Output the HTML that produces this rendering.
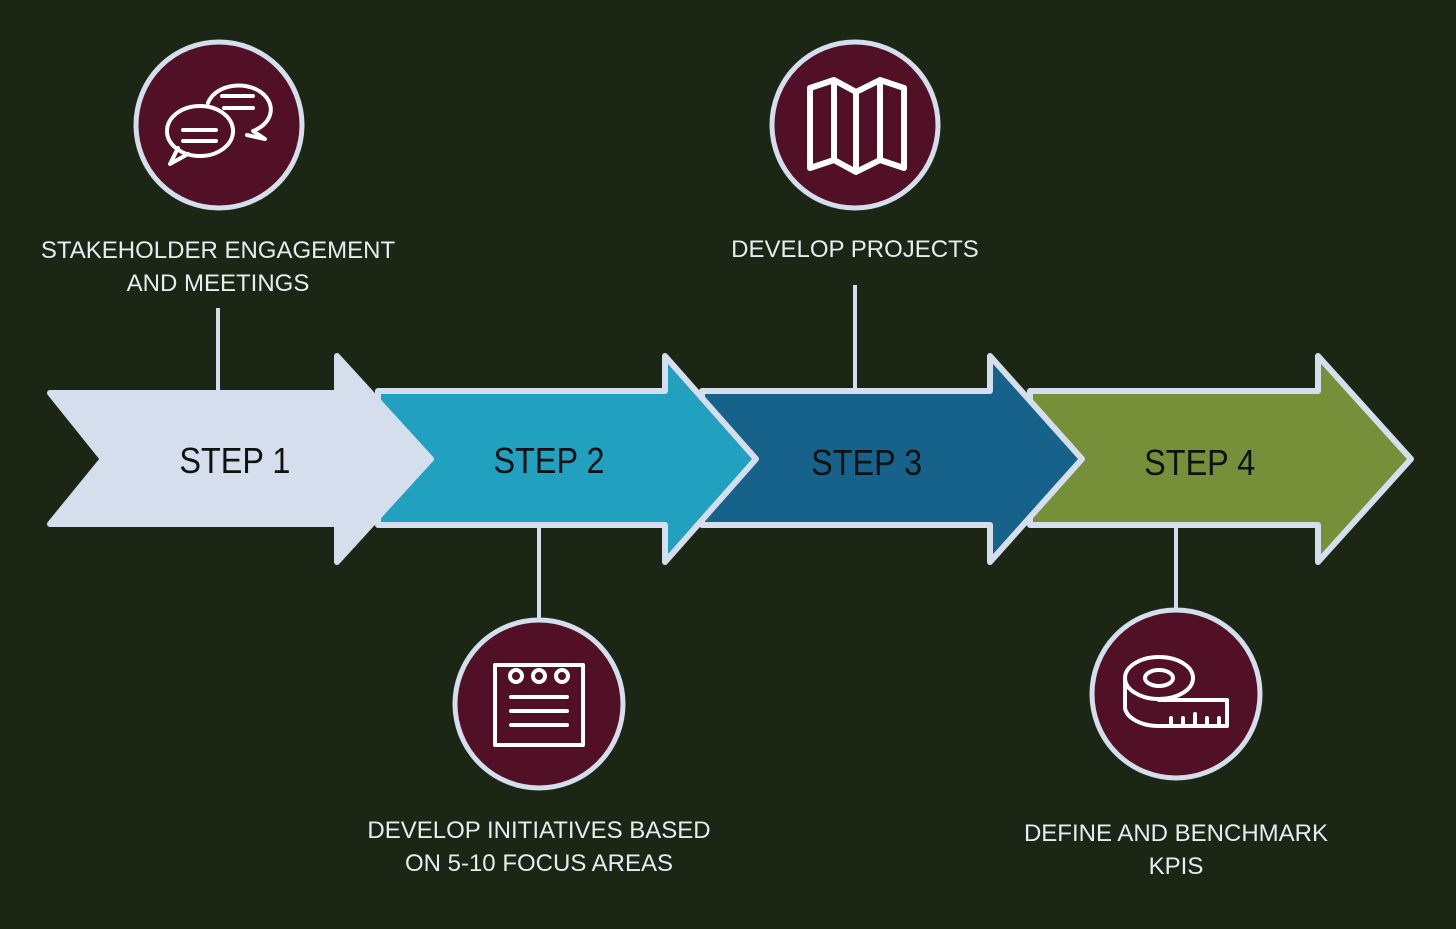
<!DOCTYPE html>
<html><head><style>
html,body{margin:0;padding:0;background:#1c2614;}
svg{display:block}
text{font-family:"Liberation Sans",sans-serif;}
</style></head><body>
<svg width="1456" height="929" viewBox="0 0 1456 929">
<rect width="1456" height="929" fill="#1c2614"/>
<g stroke="#d4deec" stroke-width="4">
<line x1="218" y1="308" x2="218" y2="392"/>
<line x1="855" y1="285" x2="855" y2="392"/>
<line x1="539" y1="524" x2="539" y2="620"/>
<line x1="1176" y1="524" x2="1176" y2="610"/>
</g>
<g stroke="#d4deec" stroke-width="6" stroke-linejoin="round">
<polygon points="1030,391 1318,391 1318,356 1411,459 1318,562 1318,525 1030,525" fill="#76903a"/>
<polygon points="702,391 990,391 990,356 1082,459 990,562 990,525 702,525" fill="#17628a"/>
<polygon points="378,391 665,391 665,356 756,459 665,562 665,525 378,525" fill="#22a0bf"/>
<polygon points="50,393 337,393 337,356 431,459 337,562 337,524 50,524 103,459" fill="#d4deec"/>
</g>
<g font-size="36" fill="#111" text-anchor="middle" transform="scale(0.9,1)">
<text x="261" y="473">STEP 1</text>
<text x="610" y="473">STEP 2</text>
<text x="963" y="475">STEP 3</text>
<text x="1333" y="475">STEP 4</text>
</g>
<g fill="#521026" stroke="#d4deec" stroke-width="5">
<circle cx="219" cy="125" r="83"/>
<circle cx="855" cy="125" r="83"/>
<circle cx="539" cy="704" r="84"/>
<circle cx="1176" cy="694" r="84"/>
</g>
<g fill="none" stroke="#fff" stroke-width="4" stroke-linecap="round" stroke-linejoin="round">
<path d="M208,103 a32,24 0 1 1 45,28 l12,8 -18,-4"/>
<ellipse cx="200" cy="131" rx="33" ry="25"/>
<path d="M178,148 l-8,16 18,-10" />
<line x1="222" y1="96" x2="253" y2="96"/><line x1="224" y1="108" x2="253" y2="108"/>
<line x1="183" y1="130" x2="216" y2="130"/><line x1="183" y1="141" x2="216" y2="141"/>
<path d="M810,88 l24,-8 22,12 24,-12 24,8 v80 l-24,-8 -24,12 -22,-12 -24,8 z M834,80 v80 M856,92 v80 M880,80 v80" stroke-width="6"/>
<rect x="495" y="665" width="88" height="80"/>
<circle cx="516" cy="676" r="6"/><circle cx="539" cy="676" r="6"/><circle cx="562" cy="676" r="6"/>
<line x1="511" y1="697" x2="567" y2="697"/><line x1="511" y1="711" x2="567" y2="711"/><line x1="511" y1="725" x2="567" y2="725"/>
<ellipse cx="1159" cy="678" rx="34" ry="21"/><ellipse cx="1159" cy="678" rx="14" ry="8"/>
<path d="M1125,678 v30 a34,20 0 0 0 34,18 h68 v-26 h-68"/>
<path d="M1171,726 v-8 M1183,726 v-8 M1195,726 v-12 M1207,726 v-8 M1219,726 v-8"/>
</g>
<g font-size="24" fill="#e8ecf2" text-anchor="middle">
<text x="218" y="258">STAKEHOLDER ENGAGEMENT</text>
<text x="218" y="291">AND MEETINGS</text>
<text x="855" y="257">DEVELOP PROJECTS</text>
<text x="539" y="838">DEVELOP INITIATIVES BASED</text>
<text x="539" y="871">ON 5-10 FOCUS AREAS</text>
<text x="1176" y="841">DEFINE AND BENCHMARK</text>
<text x="1176" y="874">KPIS</text>
</g>
</svg>
</body></html>
